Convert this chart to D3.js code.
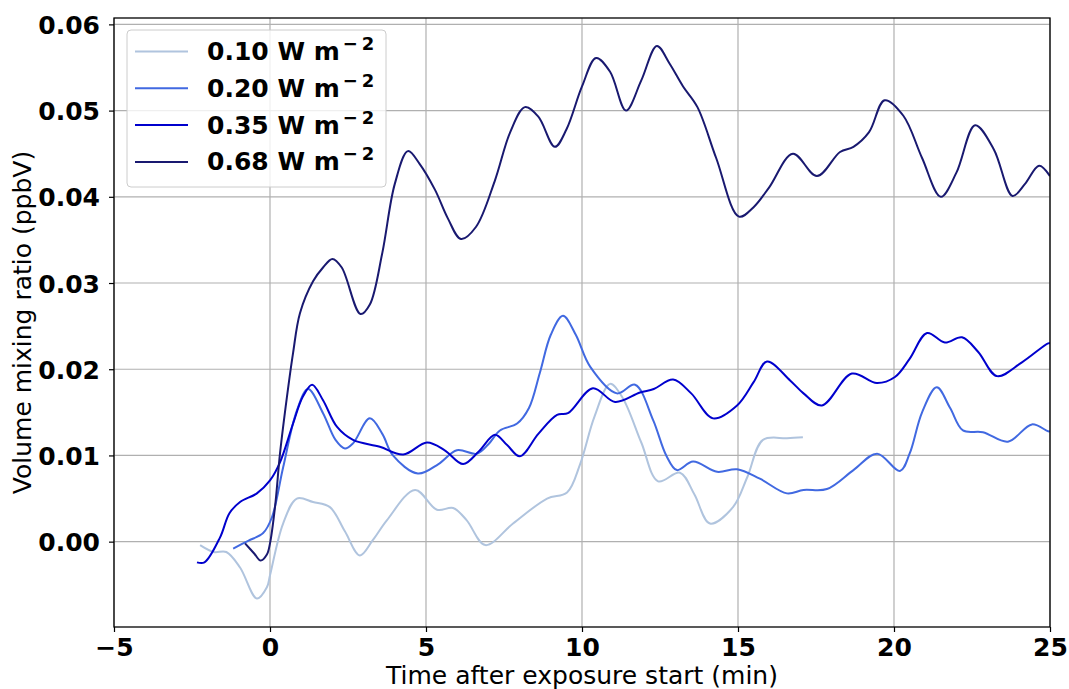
<!DOCTYPE html>
<html>
<head>
<meta charset="utf-8">
<script src="https://cdn.jsdelivr.net/npm/d3@7"></script>
<style>
  body { margin: 0; background: #fff; }
  text { font-family: "DejaVu Sans", sans-serif; }
</style>
</head>
<body>
<svg width="1069" height="689"></svg>
<script>
// series names / colours
const labels = ['0.10', '0.20', '0.35', '0.68'];
const colors = ['#b0c4de', '#4169e1', '#0000cd', '#191970'];

// 0.10 W m-2
const t010 = [-2.24, -1.8, -1.4, -0.96, -0.42, -0.1, 0, 0.42, 0.86, 1.38, 1.92, 2.4, 2.88, 3.3, 3.75, 4.65, 5.35, 5.87, 6.3, 6.9, 7.79, 8.88, 9.52, 9.94, 10.4, 10.9, 11.3, 11.9, 12.44, 13.14, 13.6, 14.1, 14.84, 15.3, 15.8, 16.57, 17.08];
const v010 = [-0.0004, -0.0012, -0.0012, -0.003, -0.0066, -0.0053, -0.0039, 0.0021, 0.005, 0.0046, 0.004, 0.0012, -0.0016, 0.0002, 0.0025, 0.006, 0.0037, 0.0039, 0.0025, -0.0004, 0.0021, 0.005, 0.0057, 0.009, 0.0145, 0.0183, 0.0167, 0.0115, 0.007, 0.008, 0.0055, 0.0021, 0.004, 0.0075, 0.0118, 0.012, 0.0121];

// 0.20 W m-2
const t020 = [-1.18, -0.7, -0.22, 0.06, 0.42, 0.86, 1.22, 1.7, 2.1, 2.4, 2.66, 3.2, 3.6, 3.94, 4.74, 5.4, 5.99, 6.63, 7.0, 7.37, 7.92, 8.3, 8.65, 9.0, 9.39, 9.8, 10.26, 11.12, 11.7, 12.28, 12.7, 13.04, 13.56, 14.33, 14.97, 15.7, 16.57, 17.1, 17.85, 18.7, 19.46, 20.19, 20.5, 20.9, 21.37, 21.8, 22.21, 22.85, 23.65, 24.42, 24.94, 25];
const v020 = [-0.0008, 0.0001, 0.001, 0.0028, 0.0086, 0.0152, 0.0177, 0.0149, 0.0118, 0.0108, 0.0114, 0.0143, 0.0125, 0.01, 0.0079, 0.009, 0.0106, 0.0102, 0.0113, 0.0129, 0.0137, 0.0155, 0.0196, 0.024, 0.0262, 0.024, 0.0203, 0.0172, 0.0182, 0.0141, 0.01, 0.0083, 0.0093, 0.0081, 0.0084, 0.0073, 0.0056, 0.006, 0.0061, 0.0083, 0.0102, 0.0082, 0.0102, 0.015, 0.0179, 0.0155, 0.0129, 0.0127, 0.0116, 0.0136, 0.0128, 0.0128];

// 0.35 W m-2
const t035 = [-2.34, -2.1, -1.6, -1.3, -0.96, -0.42, 0, 0.32, 0.74, 1.05, 1.35, 1.7, 2.15, 2.66, 3.52, 4.27, 5.03, 5.6, 6.19, 6.7, 7.21, 7.6, 8.01, 8.6, 9.2, 9.55, 10.35, 11.06, 11.86, 12.3, 12.92, 13.5, 14.2, 14.97, 15.5, 15.93, 16.67, 17.1, 17.69, 18.65, 19.45, 20.03, 20.5, 21.06, 21.63, 22.18, 22.7, 23.3, 24.1, 24.94, 25];
const v035 = [-0.0024, -0.0024, 0.0005, 0.0033, 0.0046, 0.0056, 0.0071, 0.0092, 0.0137, 0.0168, 0.0182, 0.0164, 0.0133, 0.0118, 0.011, 0.0101, 0.0115, 0.0106, 0.009, 0.0105, 0.0124, 0.0112, 0.0099, 0.0125, 0.0147, 0.0149, 0.0178, 0.0162, 0.0173, 0.0177, 0.0188, 0.0172, 0.0143, 0.0158, 0.0185, 0.0209, 0.0187, 0.0172, 0.0158, 0.0195, 0.0184, 0.0191, 0.0212, 0.0242, 0.0231, 0.0237, 0.022, 0.0192, 0.0208, 0.023, 0.023];

// 0.68 W m-2
const t068 = [-0.8, -0.5, -0.3, -0.1, 0, 0.16, 0.32, 0.54, 0.74, 0.96, 1.38, 1.7, 2.0, 2.3, 2.9, 3.2, 3.6, 4.0, 4.42, 4.8, 5.29, 5.7, 6.12, 6.6, 7.2, 7.7, 8.17, 8.6, 9.13, 9.5, 10.0, 10.45, 10.9, 11.41, 11.9, 12.4, 12.8, 13.24, 13.7, 14.3, 15.03, 15.5, 16.0, 16.76, 17.53, 18.27, 18.7, 19.2, 19.7, 20.3, 20.9, 21.5, 22.0, 22.6, 23.2, 23.8, 24.2, 24.65, 25];
const v068 = [-0.0002, -0.0014, -0.0022, -0.0015, -0.0002, 0.004, 0.0102, 0.0167, 0.0219, 0.0265, 0.0302, 0.0318, 0.0328, 0.0318, 0.0264, 0.0275, 0.0335, 0.0415, 0.0453, 0.0438, 0.0408, 0.0375, 0.0351, 0.0365, 0.0418, 0.0475, 0.0504, 0.0493, 0.0458, 0.0478, 0.0528, 0.0561, 0.0545, 0.0500, 0.0535, 0.0575, 0.0555, 0.0528, 0.0504, 0.0445, 0.0377, 0.0388, 0.0411, 0.0450, 0.0424, 0.0452, 0.0458, 0.0475, 0.0512, 0.0494, 0.0445, 0.0400, 0.0428, 0.0483, 0.0455, 0.0401, 0.0415, 0.0436, 0.0424];

const seriesT = [t010, t020, t035, t068];
const seriesV = [v010, v020, v035, v068];

const xTicks = [-5, 0, 5, 10, 15, 20, 25];
const yTicks = [0.00, 0.01, 0.02, 0.03, 0.04, 0.05, 0.06];

const svg = d3.select('svg');
const W = +svg.attr('width');
const H = +svg.attr('height');
const m = { left: 114, right: W - 1050, top: 18, bottom: H - 627 };
const iw = W - m.left - m.right;
const ih = H - m.top - m.bottom;

const x = d3.scaleLinear().domain([-5, 25]).range([0, iw]);
const y = d3.scaleLinear().domain([-0.0099, 0.06074]).range([ih, 0]);

const g = svg.append('g').attr('transform', `translate(${m.left},${m.top})`);

// grid
g.append('g').selectAll('line').data(xTicks).join('line')
    .attr('x1', d => x(d)).attr('x2', d => x(d))
    .attr('y1', 0).attr('y2', ih)
    .attr('stroke', '#b0b0b0').attr('stroke-width', 1.2)
g.append('g').selectAll('line').data(yTicks).join('line')
    .attr('x1', 0).attr('x2', iw)
    .attr('y1', d => y(d)).attr('y2', d => y(d))
    .attr('stroke', '#b0b0b0').attr('stroke-width', 1.2)

// curves
const line = d3.line()
    .x(d => x(d[0]))
    .y(d => y(d[1]))
    .curve(d3.curveCatmullRom.alpha(0.5))

g.append('defs').append('clipPath').attr('id', 'clip')
    .append('rect').attr('width', iw).attr('height', ih)

seriesT.forEach((ts, i) => {
    const pts = ts.map((t, j) => [t, seriesV[i][j]]);
    g.append('path')
        .attr('clip-path', 'url(#clip)')
        .attr('d', line(pts))
        .attr('fill', 'none')
        .attr('stroke', colors[i])
        .attr('stroke-width', 2)
        .attr('stroke-linejoin', 'round')
});

// axes
const xAxis = g.append('g').attr('transform', `translate(0,${ih})`)
    .call(d3.axisBottom(x).tickValues(xTicks).tickSize(5)
        .tickFormat(d => d < 0 ? '\u2212' + Math.abs(d) : d))
const yAxis = g.append('g')
    .call(d3.axisLeft(y).tickValues(yTicks).tickSize(5).tickPadding(9)
        .tickFormat(d3.format('.2f')))
;[xAxis, yAxis].forEach(a => {
    a.select('.domain').remove();
    a.selectAll('line').attr('stroke', '#000').attr('stroke-width', 1.2);
    a.selectAll('text').attr('fill', '#000')
        .style('font-size', '25px').style('font-weight', 'bold')
        .style('font-family', '"DejaVu Sans", sans-serif');
});
xAxis.selectAll('text').attr('y', 29).attr('dy', 0)
yAxis.selectAll('text').attr('dy', '0.36em')

// frame
g.append('rect').attr('width', iw).attr('height', ih)
    .attr('fill', 'none').attr('stroke', '#000').attr('stroke-width', 1.3)

// axis titles
svg.append('text')
    .attr('x', m.left + iw / 2).attr('y', 684)
    .attr('text-anchor', 'middle')
    .style('font-size', '25px')
    .text('Time after exposure start (min)')
svg.append('text')
    .attr('transform', `translate(31,${m.top + ih / 2}) rotate(-90)`)
    .attr('text-anchor', 'middle')
    .style('font-size', '25px')
    .text('Volume mixing ratio (ppbV)')

// legend
const lg = svg.append('g').attr('transform', 'translate(127,30)')
lg.append('rect')
    .attr('width', 259).attr('height', 157).attr('rx', 4)
    .attr('fill', '#fff').attr('fill-opacity', 0.8)
    .attr('stroke', '#cccccc').attr('stroke-width', 1)
labels.forEach((lab, i) => {
    const yy = 21.5 + i * 36.8;
    lg.append('line')
        .attr('x1', 8).attr('x2', 61).attr('y1', yy).attr('y2', yy)
        .attr('stroke', colors[i]).attr('stroke-width', 2)
    const t = lg.append('text')
        .attr('x', 80).attr('y', yy + 8.5)
        .style('font-size', '25px').style('font-weight', 'bold')
    t.append('tspan').text(lab + ' W m')
    t.append('tspan').attr('dy', -10).attr('dx', 3).style('font-size', '18px').text('\u2212')
    t.append('tspan').attr('dx', 4).style('font-size', '18px').text('2')
});
</script>
</body>
</html>
